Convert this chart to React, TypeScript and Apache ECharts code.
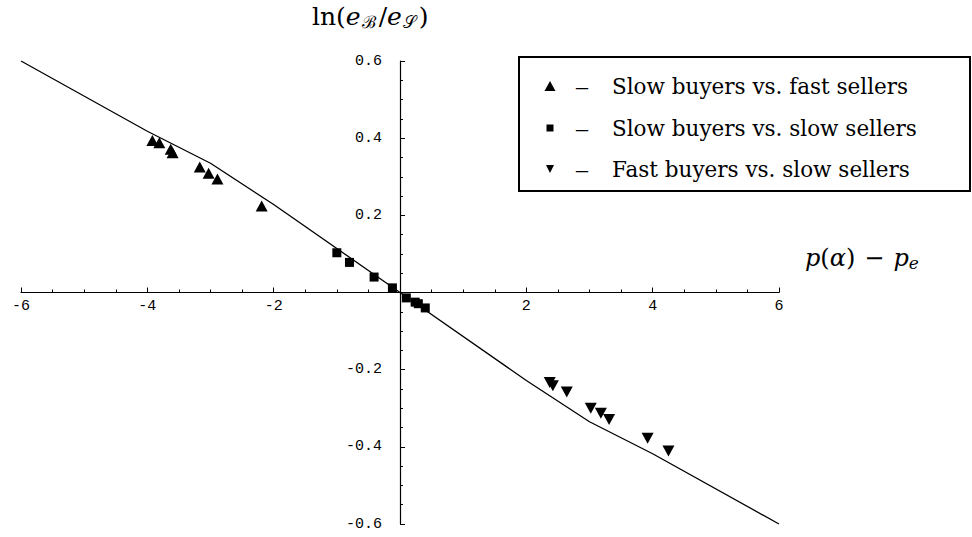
import React, { useEffect, useRef } from "react";
import * as echarts from "echarts";

// Piecewise-linear fitted curve
const curveX = [-6, -4, -3, -2, 0, 2, 3, 4, 6];
const curveY = [0.6, 0.418, 0.335, 0.228, 0, -0.228, -0.335, -0.418, -0.6];

// Slow buyers vs. fast sellers (up triangles)
const sbfsX = [-3.92, -3.81, -3.63, -3.6, -3.17, -3.03, -2.89, -2.19];
const sbfsY = [0.394, 0.388, 0.371, 0.362, 0.325, 0.309, 0.294, 0.224];

// Slow buyers vs. slow sellers (squares)
const sbssX = [-1.0, -0.8, -0.41, -0.12, 0.1, 0.24, 0.29, 0.4];
const sbssY = [0.103, 0.078, 0.04, 0.012, -0.014, -0.025, -0.029, -0.04];

// Fast buyers vs. slow sellers (down triangles)
const fbssX = [2.37, 2.42, 2.64, 3.02, 3.18, 3.31, 3.92, 4.25];
const fbssY = [-0.233, -0.242, -0.258, -0.3, -0.313, -0.329, -0.378, -0.411];

const legendNames = [
  "Slow buyers vs. fast sellers",
  "Slow buyers vs. slow sellers",
  "Fast buyers vs. slow sellers",
];

const xTicks = { min: -6, max: 6, interval: 2 };
const yTicks = { min: -0.6, max: 0.6, interval: 0.2 };

const zip = (xs: number[], ys: number[]) => xs.map((x, i) => [x, ys[i]]);

const SERIF = "'DejaVu Serif', 'Liberation Serif', serif";
const MONO = "'Liberation Mono', 'DejaVu Sans Mono', monospace";

const W = 972;
const H = 537;
const G = { left: 21, right: 193, top: 61, bottom: 13 };

export default function App() {
  const ref = useRef<HTMLDivElement>(null);
  useEffect(() => {
    if (!ref.current) return;
    const chart = echarts.init(ref.current, undefined, { renderer: "svg" });
    const rowY = [86, 128, 169];
    const gridW = W - G.left - G.right;
    const gridH = H - G.top - G.bottom;
    const markStyle = { color: "#000", opacity: 1 };
    chart.setOption({
      animation: false,
      backgroundColor: "#ffffff",
      grid: { ...G, containLabel: false, outerBoundsMode: "none" },
      xAxis: {
        type: "value",
        position: "bottom",
        offset: -gridH / 2,
        min: xTicks.min,
        max: xTicks.max,
        interval: xTicks.interval,
        axisLine: { onZero: false, lineStyle: { color: "#000", width: 1.2 } },
        axisTick: { show: true, inside: true, length: 5, lineStyle: { color: "#000", width: 1 } },
        minorTick: { show: true, splitNumber: 4, length: 3, lineStyle: { color: "#000", width: 1 } },
        splitLine: { show: false },
        axisLabel: {
          color: "#000",
          fontFamily: MONO,
          fontSize: 15,
          margin: 6,
          showMinLabel: true,
          showMaxLabel: true,
          formatter: (v: number) => (Math.abs(v) < 1e-9 ? "" : String(v)),
        },
      },
      yAxis: {
        type: "value",
        position: "left",
        offset: -gridW / 2,
        min: yTicks.min,
        max: yTicks.max,
        interval: yTicks.interval,
        axisLine: { onZero: false, lineStyle: { color: "#000", width: 1.2 } },
        axisTick: { show: true, inside: true, length: 5, lineStyle: { color: "#000", width: 1 } },
        minorTick: { show: true, splitNumber: 4, length: 3, lineStyle: { color: "#000", width: 1 } },
        splitLine: { show: false },
        axisLabel: {
          color: "#000",
          fontFamily: MONO,
          fontSize: 15,
          margin: 18,
          showMinLabel: true,
          showMaxLabel: true,
          formatter: (v: number) => (Math.abs(v) < 1e-9 ? "" : v.toFixed(1)),
        },
      },
      series: [
        {
          type: "line",
          data: zip(curveX, curveY),
          showSymbol: false,
          symbol: "none",
          lineStyle: { color: "#000", width: 1.3 },
          z: 1,
        },
        {
          type: "scatter",
          name: legendNames[0],
          data: zip(sbfsX, sbfsY),
          symbol: "triangle",
          symbolSize: [12, 11],
          itemStyle: markStyle,
          z: 3,
        },
        {
          type: "scatter",
          name: legendNames[1],
          data: zip(sbssX, sbssY),
          symbol: "rect",
          symbolSize: 9,
          itemStyle: markStyle,
          z: 3,
        },
        {
          type: "scatter",
          name: legendNames[2],
          data: zip(fbssX, fbssY),
          symbol: "triangle",
          symbolRotate: 180,
          symbolSize: [12, 11],
          itemStyle: markStyle,
          z: 3,
        },
      ],
      graphic: [
        {
          type: "text",
          left: 312,
          top: 4,
          style: {
            text: "{n|ln(}{i|e}{s|ℬ}{n|/}{i|e}{s|𝒮}{n|)}",
            rich: {
              n: { fontFamily: SERIF, fontSize: 25, fill: "#000" },
              i: { fontFamily: SERIF, fontSize: 25, fontStyle: "italic", fill: "#000" },
              s: { fontFamily: SERIF, fontSize: 17, fill: "#000", padding: [10, 3, 0, 1] },
            },
          },
        },
        {
          type: "text",
          left: 805,
          top: 246,
          style: {
            text: "{i|p}{n|(}{i|α}{n|)}{m|−}{i|p}{s|e}",
            rich: {
              n: { fontFamily: SERIF, fontSize: 24, fill: "#000" },
              m: { fontFamily: SERIF, fontSize: 24, fill: "#000", padding: [0, 9, 0, 9] },
              i: { fontFamily: SERIF, fontSize: 24, fontStyle: "italic", fill: "#000" },
              s: { fontFamily: SERIF, fontSize: 17, fontStyle: "italic", fill: "#000", padding: [10, 0, 0, 0] },
            },
          },
        },
        {
          type: "rect",
          shape: { x: 519, y: 57, width: 451, height: 134 },
          style: { fill: "#fff", stroke: "#000", lineWidth: 2 },
          z: 10,
        },
        {
          type: "polygon",
          shape: { points: [[544.5, rowY[0] + 5], [555.5, rowY[0] + 5], [550, rowY[0] - 5]] },
          style: { fill: "#000" },
          z: 11,
        },
        {
          type: "rect",
          shape: { x: 546.5, y: rowY[1] - 3.5, width: 7, height: 7 },
          style: { fill: "#000" },
          z: 11,
        },
        {
          type: "polygon",
          shape: { points: [[546, rowY[2] - 4], [554, rowY[2] - 4], [550, rowY[2] + 4]] },
          style: { fill: "#000" },
          z: 11,
        },
        ...legendNames.flatMap((name, i) => [
          {
            type: "text",
            x: 582,
            y: rowY[i],
            style: { text: "–", fontFamily: "'Liberation Serif', serif", fontSize: 24, fill: "#000", align: "center", verticalAlign: "middle" },
            z: 11,
          },
          {
            type: "text",
            x: 612,
            y: rowY[i],
            style: { text: name, fontFamily: SERIF, fontSize: 21.5, fill: "#000", align: "left", verticalAlign: "middle" },
            z: 11,
          },
        ]),
      ],
    });
    return () => chart.dispose();
  }, []);
  return (
    <div
      ref={ref}
      style={{ position: "fixed", left: 0, top: 0, width: W, height: H }}
    />
  );
}
